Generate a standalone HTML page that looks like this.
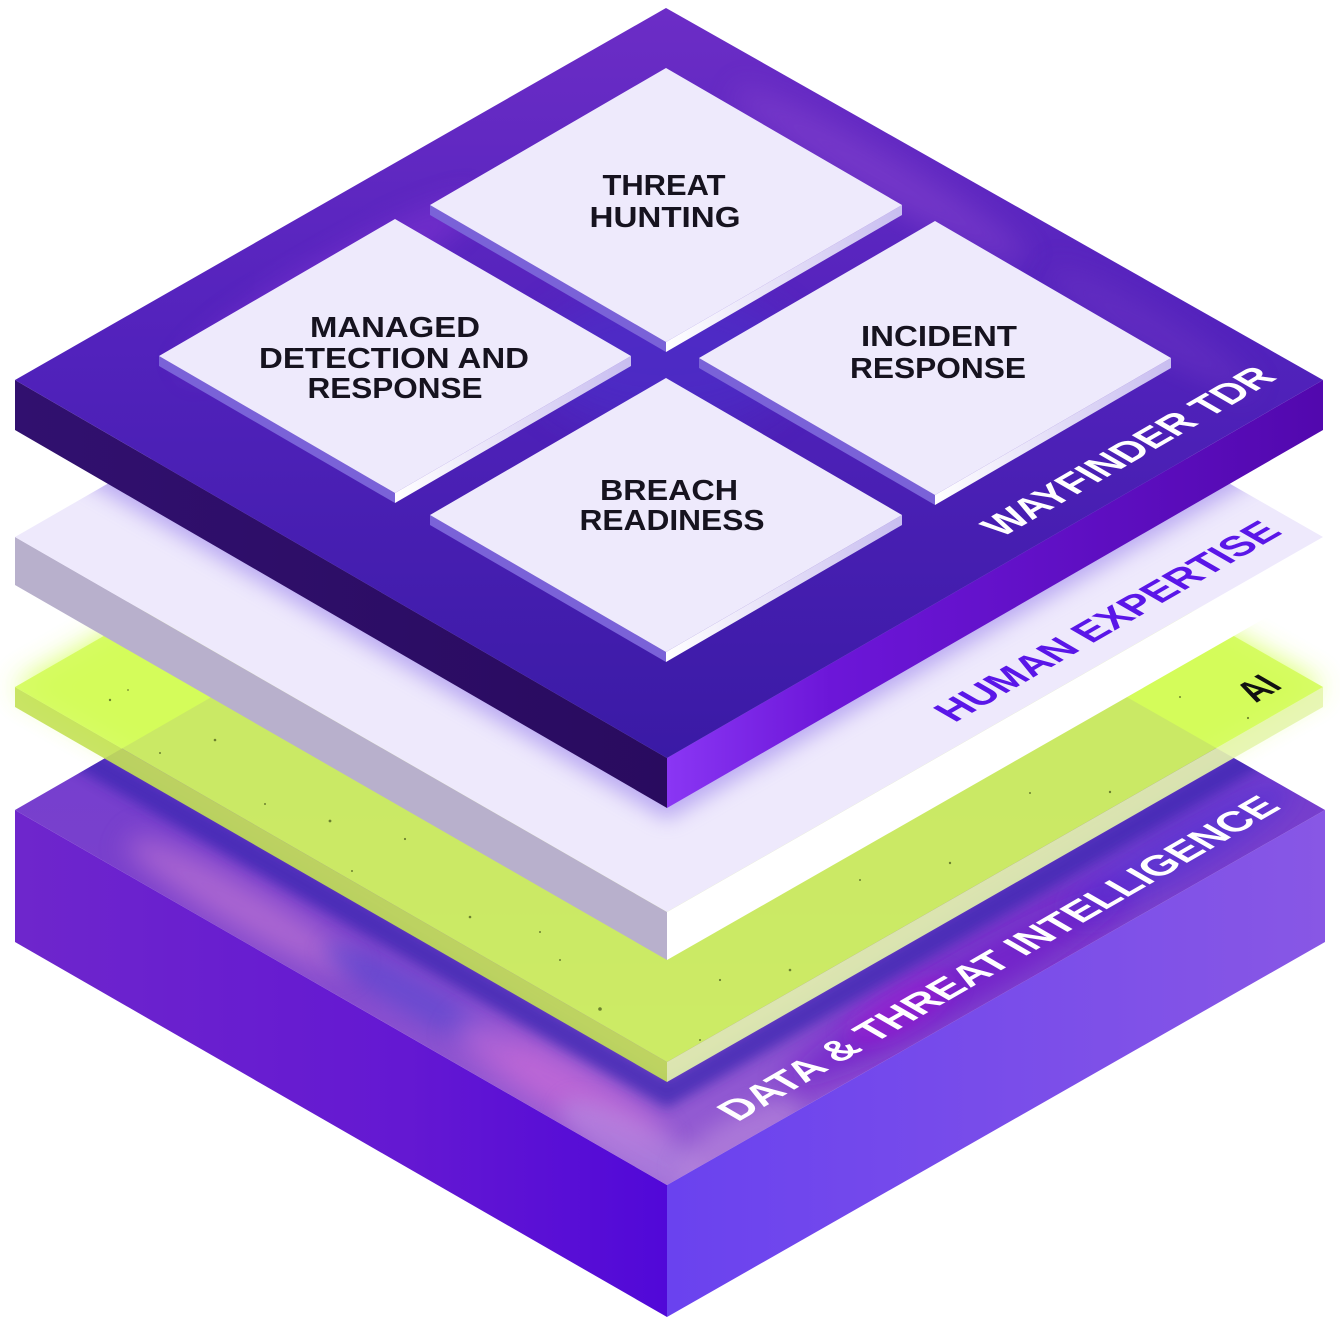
<!DOCTYPE html>
<html><head><meta charset="utf-8">
<style>
html,body{margin:0;padding:0;background:#ffffff;}
svg{display:block;}
</style></head>
<body>
<svg width="1340" height="1330" viewBox="0 0 1340 1330" xmlns="http://www.w3.org/2000/svg">
<defs>
  <filter id="g6" x="-50%" y="-50%" width="200%" height="200%"><feGaussianBlur stdDeviation="6"/></filter>
  <filter id="g10" x="-50%" y="-50%" width="200%" height="200%"><feGaussianBlur stdDeviation="10"/></filter>
  <filter id="g14" x="-50%" y="-50%" width="200%" height="200%"><feGaussianBlur stdDeviation="14"/></filter>
  <filter id="g22" x="-50%" y="-50%" width="200%" height="200%"><feGaussianBlur stdDeviation="22"/></filter>
  <clipPath id="cBot"><polygon points="667,435 1325,810 667,1185 15,810"/></clipPath>
  <clipPath id="cHum"><polygon points="667,162 1323,537 667,912 15,537"/></clipPath>
  <clipPath id="cWf"><polygon points="666,8 1323,380 667,758 15,380"/></clipPath>

  <linearGradient id="botLeft" x1="15" y1="0" x2="667" y2="0" gradientUnits="userSpaceOnUse">
    <stop offset="0" stop-color="#6e26cc"/><stop offset="0.6" stop-color="#6418d2"/><stop offset="1" stop-color="#5108d8"/>
  </linearGradient>
  <linearGradient id="botRight" x1="667" y1="0" x2="1325" y2="0" gradientUnits="userSpaceOnUse">
    <stop offset="0" stop-color="#6a42ef"/><stop offset="1" stop-color="#8857e5"/>
  </linearGradient>
  <linearGradient id="botTop" x1="0" y1="435" x2="0" y2="1185" gradientUnits="userSpaceOnUse">
    <stop offset="0" stop-color="#6a3cd4"/><stop offset="0.6" stop-color="#7a40cc"/><stop offset="1" stop-color="#9a62d4"/>
  </linearGradient>

  <linearGradient id="wfTop" x1="0" y1="8" x2="0" y2="758" gradientUnits="userSpaceOnUse">
    <stop offset="0" stop-color="#6c2dc6"/><stop offset="0.45" stop-color="#5222bc"/><stop offset="1" stop-color="#3a1aa5"/>
  </linearGradient>
  <linearGradient id="wfLeft" x1="15" y1="0" x2="667" y2="0" gradientUnits="userSpaceOnUse">
    <stop offset="0" stop-color="#31106f"/><stop offset="1" stop-color="#290b5f"/>
  </linearGradient>
  <linearGradient id="wfRight" x1="667" y1="0" x2="1323" y2="0" gradientUnits="userSpaceOnUse">
    <stop offset="0" stop-color="#8a36f4"/><stop offset="0.25" stop-color="#6c16d8"/><stop offset="1" stop-color="#5208ae"/>
  </linearGradient>
  <linearGradient id="tileR" x1="0" y1="0" x2="1" y2="0">
    <stop offset="0" stop-color="#ffffff"/><stop offset="1" stop-color="#c8bdf0"/>
  </linearGradient>
</defs>

<!-- green glow -->
<polygon points="667,312 1323,687 667,1062 15,687" fill="#d2ff50" opacity="0.9" filter="url(#g14)"/>

<!-- ===== Bottom slab: DATA & THREAT INTELLIGENCE ===== -->
<polygon points="15,810 667,1185 667,1317 15,942" fill="url(#botLeft)"/>
<polygon points="667,1185 1325,810 1325,942 667,1317" fill="url(#botRight)"/>
<polygon points="667,435 1325,810 667,1185 15,810" fill="url(#botTop)"/>
<g clip-path="url(#cBot)">
  <ellipse cx="240" cy="905" rx="130" ry="22" transform="rotate(30 240 905)" fill="#c47ad4" opacity="0.65" filter="url(#g14)"/>
  <ellipse cx="420" cy="1000" rx="110" ry="18" transform="rotate(30 420 1000)" fill="#5a48d0" opacity="0.6" filter="url(#g10)"/>
  <ellipse cx="560" cy="1085" rx="120" ry="26" transform="rotate(30 560 1085)" fill="#cf6ed8" opacity="0.7" filter="url(#g14)"/>
  <ellipse cx="640" cy="1150" rx="90" ry="26" transform="rotate(30 640 1150)" fill="#b48ae0" opacity="0.6" filter="url(#g10)"/>
  <ellipse cx="740" cy="1140" rx="70" ry="24" transform="rotate(-30 740 1140)" fill="#b888dc" opacity="0.6" filter="url(#g10)"/>
  <ellipse cx="960" cy="985" rx="200" ry="30" transform="rotate(-30 960 985)" fill="#6a0cc8" opacity="0.6" filter="url(#g14)"/>
  <ellipse cx="900" cy="1010" rx="60" ry="20" transform="rotate(-30 900 1010)" fill="#a418d2" opacity="0.5" filter="url(#g10)"/>
  <ellipse cx="1180" cy="850" rx="130" ry="24" transform="rotate(-30 1180 850)" fill="#4a2ad4" opacity="0.55" filter="url(#g14)"/>
  <polyline points="15,718 667,1093 1325,716" fill="none" stroke="#3a26b0" stroke-width="26" opacity="0.75" filter="url(#g6)"/>
</g>

<!-- ===== AI green layer ===== -->
<g opacity="0.9">
  <polygon points="15,687 667,1062 667,1082 15,707" fill="#c4e256"/>
  <polygon points="667,1062 1323,687 1323,707 667,1082" fill="#e6f6ae"/>
  <polygon points="667,312 1323,687 667,1062 15,687" fill="#d4fc5a"/>
</g>
<g fill="#3a4a12" opacity="0.65">
  <circle cx="110" cy="700" r="1.2"/><circle cx="160" cy="753" r="1"/><circle cx="215" cy="740" r="1.3"/>
  <circle cx="265" cy="804" r="1"/><circle cx="330" cy="821" r="1.4"/><circle cx="352" cy="871" r="1"/>
  <circle cx="405" cy="839" r="1.1"/><circle cx="470" cy="917" r="1.3"/><circle cx="540" cy="932" r="1"/>
  <circle cx="600" cy="1009" r="1.8"/><circle cx="720" cy="980" r="1.1"/><circle cx="790" cy="970" r="1.3"/>
  <circle cx="860" cy="880" r="1"/><circle cx="950" cy="863" r="1.2"/><circle cx="1030" cy="793" r="1"/>
  <circle cx="1110" cy="792" r="1.2"/><circle cx="1180" cy="697" r="1"/><circle cx="1248" cy="718" r="1.1"/>
  <circle cx="128" cy="690" r="0.9"/><circle cx="560" cy="960" r="1"/><circle cx="700" cy="1040" r="1"/>
</g>

<!-- ===== HUMAN EXPERTISE layer ===== -->
<polygon points="15,537 667,912 667,960 15,585" fill="#b8b0cc"/>
<polygon points="667,912 1323,537 1323,585 667,960" fill="#ffffff"/>
<polygon points="667,162 1323,537 667,912 15,537" fill="#eee9fc"/>
<g clip-path="url(#cHum)">
  <polygon points="15,440 667,820 1323,440 667,70" fill="#9a82ec" opacity="0.6" filter="url(#g10)"/>
</g>

<!-- ===== WAYFINDER TDR slab ===== -->
<polygon points="15,380 667,758 667,808 15,430" fill="url(#wfLeft)"/>
<polygon points="667,758 1323,380 1323,430 667,808" fill="url(#wfRight)"/>
<polygon points="666,8 1323,380 667,758 15,380" fill="url(#wfTop)"/>
<g clip-path="url(#cWf)">
  <ellipse cx="330" cy="285" rx="170" ry="26" transform="rotate(-30 330 285)" fill="#8a38d8" opacity="0.45" filter="url(#g14)"/>
  <ellipse cx="880" cy="175" rx="170" ry="22" transform="rotate(30 880 175)" fill="#8e4cd2" opacity="0.45" filter="url(#g14)"/>
  <ellipse cx="1150" cy="330" rx="120" ry="20" transform="rotate(30 1150 330)" fill="#7a40c8" opacity="0.35" filter="url(#g14)"/>
  <ellipse cx="666" cy="360" rx="130" ry="70" fill="#4a34d0" opacity="0.45" filter="url(#g22)"/>
</g>

<!-- ===== Tiles ===== -->
<polygon points="430,205 666,342 666,352 430,215" fill="#7a62d8"/>
<polygon points="666,342 902,205 902,215 666,352" fill="url(#tileR)"/>
<polygon points="666,68 902,205 666,342 430,205" fill="#eeeafc"/>

<polygon points="159,356 395,493 395,503 159,366" fill="#7a62d8"/>
<polygon points="395,493 631,356 631,366 395,503" fill="url(#tileR)"/>
<polygon points="395,219 631,356 395,493 159,356" fill="#eeeafc"/>

<polygon points="699,358 935,495 935,505 699,368" fill="#7a62d8"/>
<polygon points="935,495 1171,358 1171,368 935,505" fill="url(#tileR)"/>
<polygon points="935,221 1171,358 935,495 699,358" fill="#eeeafc"/>

<polygon points="430,515 666,652 666,662 430,525" fill="#7a62d8"/>
<polygon points="666,652 902,515 902,525 666,662" fill="url(#tileR)"/>
<polygon points="666,378 902,515 666,652 430,515" fill="#eeeafc"/>

<!-- ===== Tile labels ===== -->
<g font-family="'Liberation Sans', Arial, sans-serif" font-size="29" font-weight="bold" fill="#16131f" text-anchor="middle">
  <text x="664" y="195" textLength="123" lengthAdjust="spacingAndGlyphs">THREAT</text>
  <text x="665" y="227" textLength="151" lengthAdjust="spacingAndGlyphs">HUNTING</text>
  <text x="395" y="337" textLength="170" lengthAdjust="spacingAndGlyphs">MANAGED</text>
  <text x="394" y="368" textLength="270" lengthAdjust="spacingAndGlyphs">DETECTION AND</text>
  <text x="395" y="398" textLength="175" lengthAdjust="spacingAndGlyphs">RESPONSE</text>
  <text x="939" y="346" textLength="156" lengthAdjust="spacingAndGlyphs">INCIDENT</text>
  <text x="938" y="378" textLength="176" lengthAdjust="spacingAndGlyphs">RESPONSE</text>
  <text x="669" y="500" textLength="138" lengthAdjust="spacingAndGlyphs">BREACH</text>
  <text x="672" y="530" textLength="185" lengthAdjust="spacingAndGlyphs">READINESS</text>
</g>

<!-- ===== Layer labels (isometric, lying on faces) ===== -->
<g font-family="'Liberation Sans', Arial, sans-serif" font-size="40" font-weight="bold" text-anchor="middle">
  <text transform="matrix(0.866,-0.5,0.866,0.5,1140,458)" textLength="319" lengthAdjust="spacingAndGlyphs" fill="#ffffff">WAYFINDER TDR</text>
  <text transform="matrix(0.866,-0.5,0.866,0.5,1119,628)" textLength="380" lengthAdjust="spacingAndGlyphs" fill="#5a16e8">HUMAN EXPERTISE</text>
  <text transform="matrix(0.866,-0.5,0.866,0.5,1270,695)" textLength="32" lengthAdjust="spacingAndGlyphs" fill="#111111">AI</text>
  <text transform="matrix(0.866,-0.5,0.866,0.5,1010,965)" textLength="629" lengthAdjust="spacingAndGlyphs" fill="#ffffff">DATA &amp; THREAT INTELLIGENCE</text>
</g>
</svg>
</body>
</html>
